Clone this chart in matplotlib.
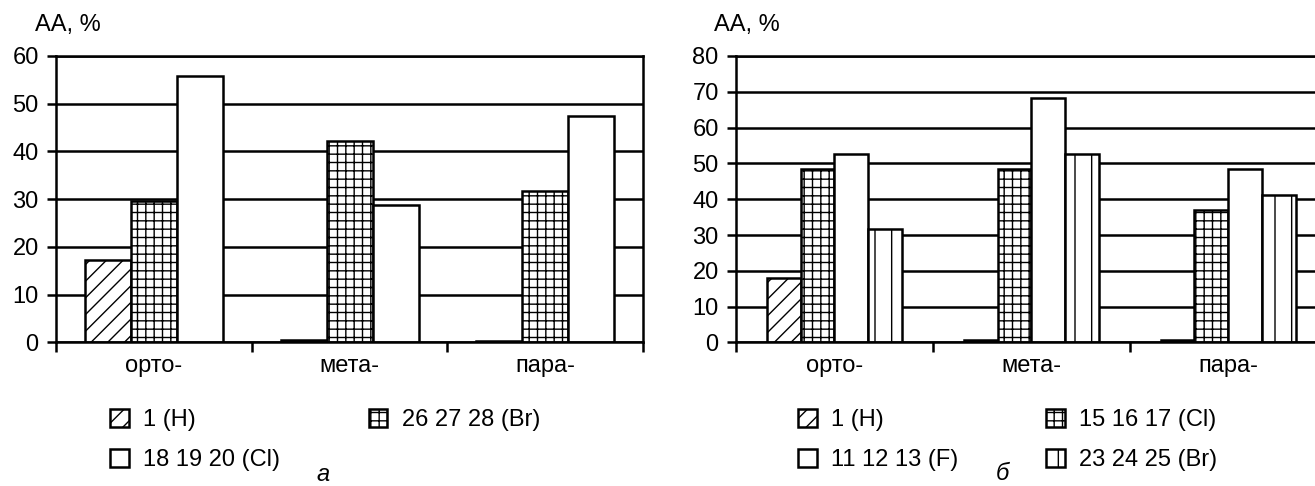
import numpy as np
import matplotlib.pyplot as plt

plt.rcParams['font.family'] = ['Liberation Sans', 'DejaVu Sans']
plt.rcParams['hatch.linewidth'] = 1.0

positions = ['орто-', 'мета-', 'пара-']

# панель а
a_h = [17.3, 0.6, 0.4]
a_br = [29.7, 42.3, 31.8]
a_cl = [55.8, 28.8, 47.5]

# панель б
b_h = [18.0, 0.8, 0.8]
b_cl = [48.4, 48.4, 36.9]
b_f = [52.6, 68.4, 48.5]
b_br = [31.6, 52.6, 41.1]

FS = 17
LW = 1.8


def style_axes(ax, ymax):
    x = np.arange(len(positions))
    ax.set_xlim(-0.5, len(positions) - 0.5)
    ax.set_ylim(0, ymax)
    ax.set_yticks(np.arange(0, ymax + 1, 10))
    ax.set_xticks(np.arange(len(positions) + 1) - 0.5)
    ax.set_xticklabels([])
    ax.set_xticks(x, positions, minor=True)
    ax.tick_params(axis='x', which='major', direction='out', length=7, width=LW)
    ax.tick_params(axis='x', which='minor', length=0, pad=9, labelsize=FS)
    ax.tick_params(axis='y', length=6.5, width=LW, pad=6, labelsize=FS)
    ax.yaxis.grid(True, color='black', lw=LW)
    ax.set_axisbelow(True)
    for s in ax.spines.values():
        s.set_linewidth(LW)


def draw_bars(ax, series, w):
    x = np.arange(len(positions))
    n = len(series)
    bars = []
    for i, (vals, lab, hatch) in enumerate(series):
        off = (i - (n - 1) / 2) * w
        b = ax.bar(x + off, vals, w, facecolor='white', edgecolor='black',
                   linewidth=LW, hatch=hatch, label=lab)
        bars.append(b)
    return bars


def add_legend(handles, labels, x0, colsp):
    fig.legend(handles, labels, ncol=2, loc='upper left',
               bbox_to_anchor=(x0 / 1315, 1 - 409 / 486),
               frameon=False, fontsize=FS, borderpad=0, borderaxespad=0,
               handlelength=0.8, handleheight=0.8, handletextpad=0.6,
               columnspacing=colsp, labelspacing=0.76)


fig = plt.figure(figsize=(13.15, 4.86), dpi=100)

# --- а ---
ax1 = fig.add_axes([0.0426, 0.2953, 0.4464, 0.5895])
style_axes(ax1, 60)
h_a, br_a, cl_a = draw_bars(ax1, [(a_h, '1 (H)', '//'),
                                  (a_br, '26 27 28 (Br)', '++'),
                                  (a_cl, '18 19 20 (Cl)', '')], 0.235)
add_legend([h_a, cl_a, br_a], ['1 (H)', '18 19 20 (Cl)', '26 27 28 (Br)'],
           110, 3.75)
fig.text(35 / 1315, 1 - 25 / 486, 'АА, %', fontsize=FS, va='center', ha='left')
fig.text(323 / 1315, 1 - 474 / 486, 'а', fontsize=FS, style='italic',
         va='center', ha='center')

# --- б ---
ax2 = fig.add_axes([0.5597, 0.2953, 0.4494, 0.5895])
style_axes(ax2, 80)
h_b, cl_b, f_b, br_b = draw_bars(ax2, [(b_h, '1 (H)', '//'),
                                       (b_cl, '15 16 17 (Cl)', '++'),
                                       (b_f, '11 12 13 (F)', ''),
                                       (b_br, '23 24 25 (Br)', '|')], 0.1725)
add_legend([h_b, f_b, cl_b, br_b],
           ['1 (H)', '11 12 13 (F)', '15 16 17 (Cl)', '23 24 25 (Br)'],
           798, 3.73)
fig.text(714 / 1315, 1 - 25 / 486, 'АА, %', fontsize=FS, va='center', ha='left')
fig.text(1002 / 1315, 1 - 473 / 486, 'б', fontsize=FS, style='italic',
         va='center', ha='center')

fig.savefig('out.png', dpi=100)
